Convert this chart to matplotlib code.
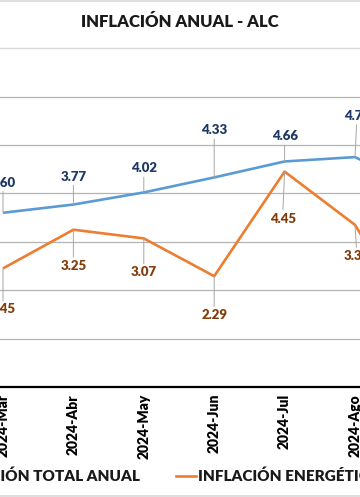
import matplotlib
matplotlib.use("Agg")

import matplotlib.pyplot as plt
from matplotlib.lines import Line2D

# ── Data ──────────────────────────────────────────────────────────────────────
MONTHS = ["2024-Mar", "2024-Abr", "2024-May", "2024-Jun", "2024-Jul", "2024-Ago", "2024-Sep"]
TOTAL = [3.60, 3.77, 4.02, 4.33, 4.66, 4.75, 4.05]
ENERGY = [2.45, 3.25, 3.07, 2.29, 4.45, 3.35, 0.95]

# label offsets (pixels) from each point to its data label
TOTAL_OFF = [(0, 30), (0, 28), (0, 24), (0, 47), (0, 25), (2, 41), (0, 30)]
ENERGY_OFF = [(0, -41), (0, -36), (0, -34), (0, -39), (-2, -47), (2, -31), (0, -30)]

BLUE = "#5B9BD5"
ORANGE = "#ED7D31"
BLUE_TXT = "#1F3864"
ORANGE_TXT = "#843C0C"
GRID = "#B4B4B4"
BORDER = "#D9D9D9"

plt.rcParams["font.family"] = ["Lato", "DejaVu Sans"]
WEIGHT = "heavy"

W, H = 360, 497
fig = plt.figure(figsize=(W / 100, H / 100), dpi=100)

# plot area runs past the figure edges (the picture is a crop of a wider chart)
x_step = 70.4
x0_px = 3
left_px = x0_px - 0.5 * x_step
right_px = x0_px + (len(MONTHS) - 0.5) * x_step
bot_px, top_px = 387, 48.2
ax = fig.add_axes([left_px / W, 1 - bot_px / H, (right_px - left_px) / W, (bot_px - top_px) / H])

x = list(range(len(MONTHS)))
ax.plot(x, TOTAL, color=BLUE, lw=1.9, zorder=3, solid_capstyle="butt")
ax.plot(x, ENERGY, color=ORANGE, lw=1.9, zorder=3, solid_capstyle="butt")

leader = dict(arrowstyle="-", color="#A6A6A6", lw=0.7, shrinkA=0, shrinkB=0)
for xi, v, (dx, dy) in zip(x, TOTAL, TOTAL_OFF):
    ax.annotate(f"{v:.2f}", (xi, v), xytext=(dx, dy), textcoords="offset pixels",
                ha="center", va="center", fontsize=9.5, fontweight=WEIGHT, color=BLUE_TXT,
                arrowprops=leader, zorder=4)
for xi, v, (dx, dy) in zip(x, ENERGY, ENERGY_OFF):
    ax.annotate(f"{v:.2f}", (xi, v), xytext=(dx, dy), textcoords="offset pixels",
                ha="center", va="center", fontsize=9.5, fontweight=WEIGHT, color=ORANGE_TXT,
                arrowprops=leader, zorder=4)

ax.set_xlim(-0.5, len(MONTHS) - 0.5)
ax.set_ylim(0, 7)
ax.set_yticks(range(1, 7))
ax.yaxis.grid(True, color=GRID, lw=0.9)
ax.set_axisbelow(True)
ax.tick_params(axis="y", left=False, labelleft=False)
ax.set_xticks(x)
ax.set_xticklabels(MONTHS, rotation=90, fontsize=10, fontweight=WEIGHT)
ax.tick_params(axis="x", length=0, pad=5)
for side in ("left", "right"):
    ax.spines[side].set_visible(False)
ax.spines["top"].set_color(BORDER)
ax.spines["top"].set_linewidth(1.0)
ax.spines["bottom"].set_color("black")
ax.spines["bottom"].set_linewidth(1.6)

# chart border and title
fig.add_artist(Line2D([0, 1], [1 - 1 / H, 1 - 1 / H], color=BORDER, lw=1.2))
fig.add_artist(Line2D([0, 1], [1 - 496 / H, 1 - 496 / H], color=BORDER, lw=1.2))
fig.text(0.5, 1 - 22 / H, "INFLACIÓN ANUAL - ALC", ha="center", va="center",
         fontsize=12, fontweight=WEIGHT, color="#1A1A1A")

# legend
ly = 1 - 476 / H
fig.text(140 / W, ly, "INFLACIÓN TOTAL ANUAL", ha="right", va="center",
         fontsize=11, fontweight=WEIGHT, color="#1A1A1A")
fig.add_artist(Line2D([176 / W, 196 / W], [ly, ly], color=ORANGE, lw=1.9))
fig.text(198 / W, ly, "INFLACIÓN ENERGÉTICA", ha="left", va="center",
         fontsize=11, fontweight=WEIGHT, color="#1A1A1A")

fig.savefig("out.png", dpi=100)
